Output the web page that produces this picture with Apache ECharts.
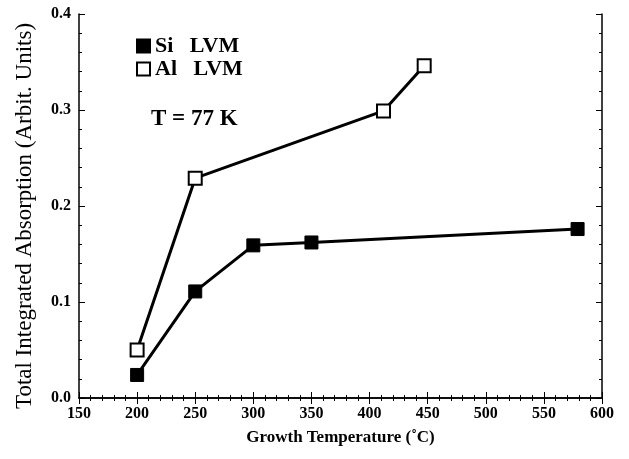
<!DOCTYPE html>
<html>
<head>
<meta charset="utf-8">
<script src="https://cdn.jsdelivr.net/npm/echarts@6/dist/echarts.min.js"></script>
<style>
  html, body { margin: 0; padding: 0; background: #fff; }
  #chart { width: 629px; height: 459px; }
</style>
</head>
<body>
<div id="chart"></div>
<script>
  // growth temperature (°C) and absorption values
  var siTemp = [200, 250, 300, 350, 579];
  var siAbs = [0.024, 0.111, 0.159, 0.162, 0.176];
  var alTemp = [200, 250, 412, 447];
  var alAbs = [0.050, 0.229, 0.299, 0.346];

  var font = 'Liberation Serif';

  function pairs(xs, ys) {
    return xs.map(function (x, i) { return [x, ys[i]]; });
  }

  var myChart = echarts.init(document.getElementById('chart'));

  var xTicks = {
    min: 150, max: 600, interval: 50,
    axisLine: { lineStyle: { color: '#000', width: 1.5 } },
    axisTick: { inside: true, length: 6, lineStyle: { color: '#000' } },
    minorTick: { show: true, splitNumber: 5, length: 3, lineStyle: { color: '#000' } },
    splitLine: { show: false }
  };
  var yTicks = {
    min: 0, max: 0.4, interval: 0.1,
    axisLine: { lineStyle: { color: '#000', width: 1.5 } },
    axisTick: { inside: true, length: 6, lineStyle: { color: '#000' } },
    minorTick: { show: true, splitNumber: 5, length: 3, lineStyle: { color: '#000' } },
    splitLine: { show: false }
  };

  myChart.setOption({
    animation: false,
    grid: { left: 79, right: 27, top: 14, bottom: 61 },
    legend: {
      orient: 'vertical',
      left: 131,
      top: 30,
      itemWidth: 13,
      itemHeight: 13,
      itemGap: 1,
      textStyle: { fontFamily: font, fontWeight: 'bold', fontSize: 22, color: '#000' },
      data: [
        { name: 'Si   LVM', icon: 'rect' },
        { name: 'Al   LVM', icon: 'rect' }
      ]
    },
    graphic: [{
      type: 'text',
      left: 151,
      top: 108,
      style: { text: 'T = 77 K', fontFamily: font, fontWeight: 'bold', fontSize: 23, fill: '#000' }
    }],
    xAxis: [
      Object.assign({
        type: 'value',
        position: 'bottom',
        name: 'Growth Temperature (˚C)',
        nameLocation: 'middle',
        nameGap: 31,
        nameTextStyle: { fontFamily: font, fontWeight: 'bold', fontSize: 17, color: '#000' },
        axisLabel: { fontFamily: font, fontWeight: 'bold', fontSize: 16, color: '#000', margin: 8 }
      }, xTicks),
      Object.assign({
        type: 'value',
        position: 'top',
        axisLabel: { show: false }
      }, xTicks)
    ],
    yAxis: [
      Object.assign({
        type: 'value',
        position: 'left',
        name: 'Total Integrated Absorption (Arbit. Units)',
        nameLocation: 'middle',
        nameGap: 43,
        nameTextStyle: { fontFamily: font, fontSize: 23, color: '#000', padding: [0, 20, 0, 0] },
        axisLabel: {
          fontFamily: font, fontWeight: 'bold', fontSize: 16, color: '#000', margin: 8,
          formatter: function (v) { return v.toFixed(1); }
        }
      }, yTicks),
      Object.assign({
        type: 'value',
        position: 'right',
        axisLabel: { show: false }
      }, yTicks)
    ],
    series: [
      {
        name: 'Si   LVM',
        type: 'line',
        data: pairs(siTemp, siAbs),
        symbol: 'rect',
        symbolSize: 13,
        itemStyle: { color: '#000', borderColor: '#000', borderWidth: 1 },
        lineStyle: { color: '#000', width: 3 }
      },
      {
        name: 'Al   LVM',
        type: 'line',
        data: pairs(alTemp, alAbs),
        symbol: 'rect',
        symbolSize: 13,
        z: 3,
        itemStyle: { color: '#fff', borderColor: '#000', borderWidth: 2 },
        lineStyle: { color: '#000', width: 3 }
      }
    ]
  });

  window.addEventListener('resize', function () {
    myChart.resize();
  });
</script>
</body>
</html>
